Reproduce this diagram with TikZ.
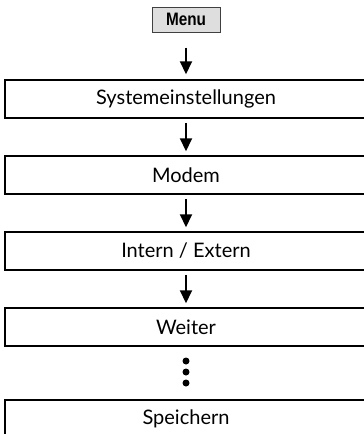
\documentclass[tikz,border=0pt]{standalone}
\usepackage{fontspec}
\setmainfont{Lato}
\newfontfamily\menufont{Liberation Sans}[FakeStretch=0.85]
\usetikzlibrary{arrows.meta}
\tikzset{
  stepbox/.style={draw=black, line width=1.5pt, minimum width=362pt, minimum height=38pt, inner sep=0pt, font=\fontsize{20}{24}\selectfont},
  menubox/.style={draw=black!75, fill=black!13, line width=1pt, minimum width=68pt, minimum height=25pt, inner sep=0pt, font=\menufont\bfseries\fontsize{18}{21}\selectfont},
  arr/.style={line width=2pt, -{Triangle[width=12pt,length=13pt]}},
  dot/.style={circle, fill=black, inner sep=0pt, minimum size=7pt}
}
\begin{document}
\begin{tikzpicture}[x=1pt,y=-1pt]
\useasboundingbox (0,0) rectangle (364,434);
\clip (0,0) rectangle (364,434);
\node[menubox] (menu) at (186,19.5) {Menu};
\node[stepbox] (s1) at (186,99) {Systemeinstellungen};
\node[stepbox] (s2) at (186,175) {Modem};
\node[stepbox] (s3) at (186,251) {Intern / Extern};
\node[stepbox] (s4) at (186,327) {Weiter};
\node[stepbox] (s5) at (186,419) {Speichern};
\node[dot] (d1) at (186,361) {};
\node[dot] (d2) at (186,372) {};
\node[dot] (d3) at (186,383) {};
\draw[arr, shorten <=15pt, shorten >=5pt] (menu.south) -- (s1.north);
\draw[arr, shorten <=4pt, shorten >=4pt] (s1.south) -- (s2.north);
\draw[arr, shorten <=4pt, shorten >=4pt] (s2.south) -- (s3.north);
\draw[arr, shorten <=4pt, shorten >=4pt] (s3.south) -- (s4.north);
\end{tikzpicture}
\end{document}
